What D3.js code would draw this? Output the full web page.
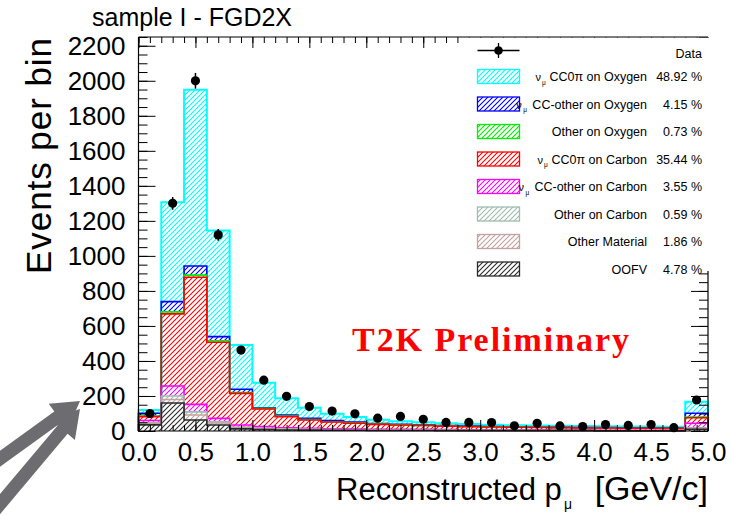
<!DOCTYPE html>
<html>
<head>
<meta charset="utf-8">
<script src="https://cdn.jsdelivr.net/npm/d3@7"></script>
<style>
	body { margin: 0; background: #fff; }
	svg { display: block; font-family: "Liberation Sans", Arial, sans-serif; }
</style>
</head>
<body>
<div id="chart"></div>
<script>

// (data) Bin centres of reconstructed muon momentum [GeV/c], 0.2 wide
var binCenters = [0.1, 0.3, 0.5, 0.7, 0.9, 1.1, 1.3, 1.5, 1.7, 1.9, 2.1, 2.3, 2.5,
	2.7, 2.9, 3.1, 3.3, 3.5, 3.7, 3.9, 4.1, 4.3, 4.5, 4.7, 4.9];
var binWidth = 0.2;

// (data) Observed events per bin
var dataCounts = [100, 1300, 2000, 1120, 462, 290, 198, 140, 114, 98, 73, 83, 67,
	49, 49, 48, 30, 44, 29, 25, 37, 32, 37, 19, 177];

// (data) MC components, bottom of the stack first
var oofv     = [35, 160, 63, 34, 12, 8, 6, 5, 4, 4, 3, 3, 3, 2, 2, 2, 2, 2, 2, 2, 1, 1, 1, 1, 10];
var otherMat = [8, 20, 28, 12, 6, 5, 4, 3, 3, 2, 2, 2, 2, 2, 1, 1, 1, 1, 1, 1, 1, 1, 1, 1, 5];
var otherC   = [5, 20, 18, 7, 4, 3, 2, 2, 1, 1, 1, 1, 1, 1, 1, 1, 1, 0, 0, 0, 0, 0, 0, 0, 3];
var ccOtherC = [12, 57, 43, 19, 12, 9, 6, 5, 4, 4, 3, 3, 3, 3, 3, 2, 2, 2, 2, 2, 2, 2, 2, 2, 26];
var cc0piC   = [22, 412, 726, 435, 181, 101, 64, 48, 39, 33, 29, 25, 22, 20, 18, 17, 15, 15, 14, 13, 13, 12, 12, 11, 32];
var otherO   = [3, 11, 12, 8, 5, 3, 3, 2, 2, 2, 1, 1, 1, 1, 1, 1, 1, 1, 0, 0, 0, 0, 0, 0, 3];
var ccOtherO = [16, 59, 52, 24, 18, 4, 6, 7, 6, 5, 3, 3, 3, 2, 2, 2, 2, 1, 2, 2, 2, 2, 2, 2, 22];
var cc0piO   = [19, 568, 1007, 606, 253, 143, 96, 61, 39, 29, 22, 18, 15, 13, 12, 10, 9, 9, 9, 8, 8, 8, 7, 7, 66];

// (legend) Entries, top of the legend first
var legendKeys = ["cc0piO", "ccOtherO", "otherO", "cc0piC", "ccOtherC", "otherC", "otherMat", "oofv"];
var legendLabels = ["CC0\u03c0 on Oxygen", "CC-other on Oxygen", "Other on Oxygen", "CC0\u03c0 on Carbon",
	"CC-other on Carbon", "Other on Carbon", "Other Material", "OOFV"];
var legendNu = [true, true, false, true, true, false, false, false];
var legendPercents = ["48.92 %", "4.15 %", "0.73 %", "35.44 %", "3.55 %", "0.59 %", "1.86 %", "4.78 %"];

// (axes) Tick labels
var xTickValues = [0, 0.5, 1, 1.5, 2, 2.5, 3, 3.5, 4, 4.5, 5];
var yTickValues = [0, 200, 400, 600, 800, 1000, 1200, 1400, 1600, 1800, 2000, 2200];

var stackKeys = ["oofv", "otherMat", "otherC", "ccOtherC", "cc0piC", "otherO", "ccOtherO", "cc0piO"];
var seriesByKey = {oofv: oofv, otherMat: otherMat, otherC: otherC, ccOtherC: ccOtherC,
	cc0piC: cc0piC, otherO: otherO, ccOtherO: ccOtherO, cc0piO: cc0piO};
var colors = {oofv: "#2a2a2a", otherMat: "#c4a0a0", otherC: "#9fbcae", ccOtherC: "#ff00ff",
	cc0piC: "#ff0000", otherO: "#00ee00", ccOtherO: "#0000ff", cc0piO: "#00ffff"};

var width = 731, height = 515;
var frame = {left: 138.5, right: 708, top: 37, bottom: 431};

var svg = d3.select("#chart")
	.append("svg")
	.attr("width", width)
	.attr("height", height);

var x = d3.scaleLinear().domain([0, 5]).range([frame.left, frame.right]);
var y = d3.scaleLinear().domain([0, 2250]).range([frame.bottom, frame.top]);

// (patterns) Diagonal hatching, one per colour
var defs = svg.append("defs");
stackKeys.forEach(function(k) {
	defs.append("pattern")
		.attr("id", "hatch-" + k)
		.attr("patternUnits", "userSpaceOnUse")
		.attr("width", 5)
		.attr("height", 5)
		.append("path")
		.attr("d", "M0,5 L5,0 M-1,1 L1,-1 M4,6 L6,4")
		.attr("stroke", colors[k])
		.attr("stroke-width", 1.1);
});

// (stack) Build the stacked table
var table = binCenters.map(function(c, i) {
	var row = {center: c};
	stackKeys.forEach(function(k) { row[k] = seriesByKey[k][i]; });
	return row;
});
var stacked = d3.stack().keys(stackKeys)(table);

// (fills) Hatched pieces
var gFill = svg.append("g");
stacked.forEach(function(layer) {
	gFill.selectAll(null)
		.data(layer)
		.enter()
		.append("rect")
		.attr("x", function(d) { return x(d.data.center - binWidth / 2); })
		.attr("width", x(binWidth) - x(0))
		.attr("y", function(d) { return y(d[1]); })
		.attr("height", function(d) { return y(d[0]) - y(d[1]); })
		.attr("fill", "url(#hatch-" + layer.key + ")");
});

// (outlines) Step outline for each cumulative histogram, top one first
var step = d3.line().curve(d3.curveStepAfter);
var gLine = svg.append("g").attr("fill", "none");
stacked.slice().reverse().forEach(function(layer) {
	var pts = [[x(0), y(0)]];
	layer.forEach(function(d) { pts.push([x(d.data.center - binWidth / 2), y(d[1])]); });
	pts.push([x(5), y(layer[layer.length - 1][1])]);
	pts.push([x(5), y(0)]);
	gLine.append("path")
		.attr("d", step(pts))
		.attr("stroke", colors[layer.key])
		.attr("stroke-width", layer.key === "cc0piO" ? 2 : 1.6);
});

// (data) Points with Poisson error bars
var gData = svg.append("g");
gData.selectAll("line")
	.data(dataCounts)
	.enter()
	.append("line")
	.attr("x1", function(d, i) { return x(binCenters[i]); })
	.attr("x2", function(d, i) { return x(binCenters[i]); })
	.attr("y1", function(d) { return y(d - Math.sqrt(d)); })
	.attr("y2", function(d) { return y(d + Math.sqrt(d)); })
	.attr("stroke", "#000")
	.attr("stroke-width", 1.5);
gData.selectAll("circle")
	.data(dataCounts)
	.enter()
	.append("circle")
	.attr("cx", function(d, i) { return x(binCenters[i]); })
	.attr("cy", function(d) { return y(d); })
	.attr("r", 4.6)
	.attr("fill", "#000");

// (label) T2K Preliminary
svg.append("text")
	.attr("x", 352)
	.attr("y", 351)
	.attr("textLength", 277)
	.attr("lengthAdjust", "spacing")
	.attr("font-family", "'Liberation Serif', 'Times New Roman', serif")
	.attr("font-weight", "bold")
	.attr("font-size", 34)
	.attr("fill", "#ff0000")
	.text("T2K Preliminary");

// (axes) Inward ticks on all four sides
function styleAxis(g) {
	g.select(".domain").remove();
	g.selectAll(".tick line").attr("stroke", "#000").attr("stroke-width", 1);
	g.selectAll(".tick text")
		.attr("fill", "#000")
		.attr("font-size", 26)
		.attr("font-family", "'Liberation Sans', Arial, sans-serif");
}
var yMinor = d3.range(0, 2251, 50);
var xMinor = d3.range(0, 51).map(function(i) { return i / 10; });

svg.append("g")
	.attr("transform", "translate(" + frame.left + ",0)")
	.call(d3.axisLeft(y).tickValues(yMinor).tickSize(-9).tickFormat(""))
	.call(styleAxis);
svg.append("g")
	.attr("transform", "translate(" + frame.left + ",0)")
	.call(d3.axisLeft(y).tickValues(yTickValues).tickSize(-17).tickPadding(13).tickFormat(d3.format("d")))
	.call(styleAxis);
svg.append("g")
	.attr("transform", "translate(" + frame.right + ",0)")
	.call(d3.axisRight(y).tickValues(yMinor).tickSize(-9).tickFormat(""))
	.call(styleAxis);
svg.append("g")
	.attr("transform", "translate(" + frame.right + ",0)")
	.call(d3.axisRight(y).tickValues(yTickValues).tickSize(-17).tickFormat(""))
	.call(styleAxis);
svg.append("g")
	.attr("transform", "translate(0," + frame.bottom + ")")
	.call(d3.axisBottom(x).tickValues(xMinor).tickSize(-6).tickFormat(""))
	.call(styleAxis);
svg.append("g")
	.attr("transform", "translate(0," + frame.bottom + ")")
	.call(d3.axisBottom(x).tickValues(xTickValues).tickSize(-11).tickPadding(12).tickFormat(d3.format(".1f")))
	.call(styleAxis);
svg.append("g")
	.attr("transform", "translate(0," + frame.top + ")")
	.call(d3.axisTop(x).tickValues(xMinor).tickSize(-6).tickFormat(""))
	.call(styleAxis);
svg.append("g")
	.attr("transform", "translate(0," + frame.top + ")")
	.call(d3.axisTop(x).tickValues(xTickValues).tickSize(-11).tickFormat(""))
	.call(styleAxis);

// (legend) White panel in the top right corner
var legend = svg.append("g").attr("font-size", 12.5).attr("fill", "#000");
legend.append("rect")
	.attr("x", 462)
	.attr("y", frame.top + 0.5)
	.attr("width", 250)
	.attr("height", 233)
	.attr("fill", "#fff");

legend.append("line")
	.attr("x1", 477.5).attr("x2", 519.5).attr("y1", 50.5).attr("y2", 50.5)
	.attr("stroke", "#000").attr("stroke-width", 1.3);
legend.append("line")
	.attr("x1", 498.5).attr("x2", 498.5).attr("y1", 43).attr("y2", 58)
	.attr("stroke", "#000").attr("stroke-width", 1.3);
legend.append("circle")
	.attr("cx", 498.5).attr("cy", 50.5).attr("r", 4.3).attr("fill", "#000");
legend.append("text")
	.attr("x", 702).attr("y", 57.5)
	.attr("text-anchor", "end")
	.text("Data");

var rowY = function(i) { return 76.5 + i * 27.5; };
legendKeys.forEach(function(k, i) {
	var cy = rowY(i);
	legend.append("rect")
		.attr("x", 477.5).attr("y", cy - 7)
		.attr("width", 42).attr("height", 14)
		.attr("fill", "url(#hatch-" + k + ")")
		.attr("stroke", colors[k])
		.attr("stroke-width", 1.3);
	var label = legend.append("text")
		.attr("x", 647).attr("y", cy + 4.5)
		.attr("text-anchor", "end")
		.text(legendLabels[i]);
	if (legendNu[i]) {
		var start = 647 - label.node().getComputedTextLength();
		var wide = legendLabels[i].indexOf("CC-other") === 0;
		legend.append("text")
			.attr("x", start - (wide ? 16 : 14)).attr("y", cy + 4.5)
			.attr("font-size", 11)
			.text("\u03bd");
		legend.append("text")
			.attr("x", start - (wide ? 9 : 7.5)).attr("y", cy + 8)
			.attr("font-size", 6.5)
			.text("\u03bc");
	}
	legend.append("text")
		.attr("x", 702).attr("y", cy + 4.5)
		.attr("text-anchor", "end")
		.text(legendPercents[i]);
});

// (frame) Box, right edge hidden behind the legend
svg.append("path")
	.attr("d", "M" + frame.left + "," + frame.top + "H" + frame.right +
		"M" + frame.right + "," + (frame.top + 234) + "V" + frame.bottom +
		"H" + frame.left + "V" + frame.top)
	.attr("fill", "none")
	.attr("stroke", "#000")
	.attr("stroke-width", 1.2);

// (titles) Pad title and axis titles
svg.append("text")
	.attr("x", 92).attr("y", 26)
	.attr("font-size", 25)
	.text("sample I - FGD2X");

svg.append("text")
	.attr("transform", "translate(51,38) rotate(-90)")
	.attr("text-anchor", "end")
	.attr("font-size", 35)
	.attr("textLength", 236)
	.attr("lengthAdjust", "spacing")
	.text("Events per bin");

svg.append("text")
	.attr("x", 336).attr("y", 500)
	.attr("font-size", 31)
	.text("Reconstructed p");
svg.append("text")
	.attr("x", 564).attr("y", 509)
	.attr("font-size", 14)
	.text("\u03bc");
svg.append("text")
	.attr("x", 708).attr("y", 500)
	.attr("text-anchor", "end")
	.attr("font-size", 34)
	.text("[GeV/c]");

// (arrows) Two grey pointers aimed at the low end of the y axis
function arrowPoints(x1, y1, x2, y2, shaft, headLen, headW) {
	var dx = x2 - x1, dy = y2 - y1, len = Math.sqrt(dx * dx + dy * dy);
	var ux = dx / len, uy = dy / len, nx = -uy, ny = ux;
	var bx = x2 - ux * headLen, by = y2 - uy * headLen;
	return [
		[x1 + nx * shaft / 2, y1 + ny * shaft / 2],
		[bx + nx * shaft / 2, by + ny * shaft / 2],
		[bx + nx * headW / 2, by + ny * headW / 2],
		[x2, y2],
		[bx - nx * headW / 2, by - ny * headW / 2],
		[bx - nx * shaft / 2, by - ny * shaft / 2],
		[x1 - nx * shaft / 2, y1 - ny * shaft / 2]
	].join(" ");
}
svg.append("polygon")
	.attr("points", arrowPoints(-10, 466, 80, 401, 13, 27, 32))
	.attr("fill", "#6c6c71");
svg.append("polygon")
	.attr("points", arrowPoints(-10, 516, 80, 409, 13, 27, 32))
	.attr("fill", "#6c6c71");

</script>
</body>
</html>
